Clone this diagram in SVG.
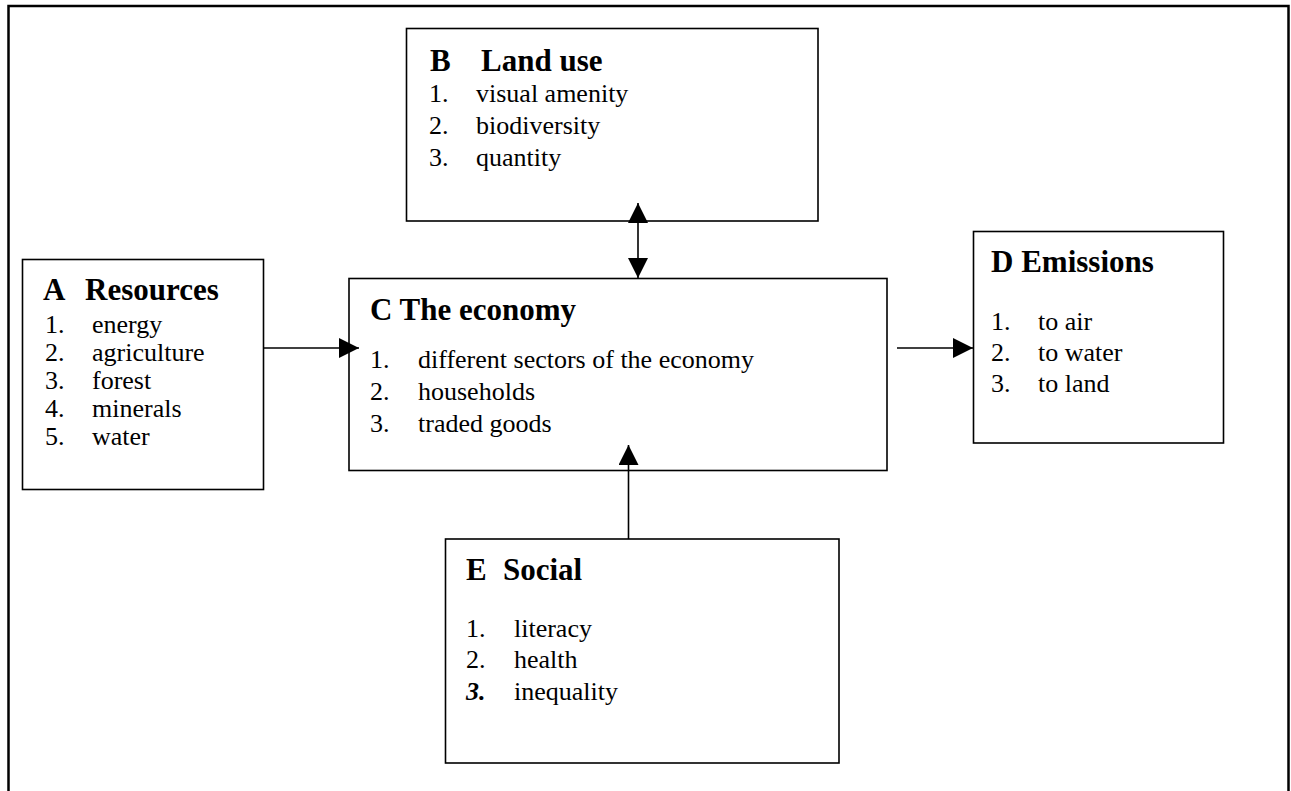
<svg xmlns="http://www.w3.org/2000/svg" width="1291" height="791" viewBox="0 0 1291 791">
<style>
.box{fill:#fff;stroke:#000;stroke-width:1.6}
.t{font-family:"Liberation Serif","Times New Roman",serif;font-size:31px;font-weight:bold;fill:#000}
.i{font-family:"Liberation Serif","Times New Roman",serif;font-size:26px;fill:#000}
.c{stroke:#000;stroke-width:1.6;fill:none}
</style>
<defs>
<marker id="ah" markerUnits="userSpaceOnUse" markerWidth="20" markerHeight="20" refX="20" refY="10" orient="auto-start-reverse" viewBox="0 0 20 20">
<path d="M0,0 L20,10 L0,20 z" fill="#000"/>
</marker>
</defs>
<rect x="0" y="0" width="1291" height="791" fill="#fff"/>
<rect x="8.5" y="6" width="1280" height="820" fill="none" stroke="#000" stroke-width="2.5"/>

<g id="nodeB">
<rect class="box" x="406.5" y="28.5" width="411.5" height="192.5"/>
<text class="t" x="430" y="71">B</text><text class="t" x="481" y="71">Land use</text>
<text class="i" x="429" y="102">1.</text><text class="i" x="476" y="102">visual amenity</text>
<text class="i" x="429" y="134">2.</text><text class="i" x="476" y="134">biodiversity</text>
<text class="i" x="429" y="166">3.</text><text class="i" x="476" y="166">quantity</text>
</g>

<g id="nodeA">
<rect class="box" x="22.5" y="259.5" width="241" height="230"/>
<text class="t" x="43" y="300">A</text><text class="t" x="85" y="300">Resources</text>
<text class="i" x="45" y="333">1.</text><text class="i" x="92" y="333">energy</text>
<text class="i" x="45" y="361">2.</text><text class="i" x="92" y="361">agriculture</text>
<text class="i" x="45" y="389">3.</text><text class="i" x="92" y="389">forest</text>
<text class="i" x="45" y="417">4.</text><text class="i" x="92" y="417">minerals</text>
<text class="i" x="45" y="445">5.</text><text class="i" x="92" y="445">water</text>
</g>

<g id="nodeC">
<rect class="box" x="349" y="278.5" width="538" height="192"/>
<text class="t" x="370" y="320">C The economy</text>
<text class="i" x="370" y="368">1.</text><text class="i" x="418" y="368">different sectors of the economy</text>
<text class="i" x="370" y="400">2.</text><text class="i" x="418" y="400">households</text>
<text class="i" x="370" y="432">3.</text><text class="i" x="418" y="432">traded goods</text>
</g>

<g id="nodeD">
<rect class="box" x="973.5" y="231.5" width="250" height="211.5"/>
<text class="t" x="991" y="272">D Emissions</text>
<text class="i" x="991" y="330">1.</text><text class="i" x="1038" y="330">to air</text>
<text class="i" x="991" y="361">2.</text><text class="i" x="1038" y="361">to water</text>
<text class="i" x="991" y="392">3.</text><text class="i" x="1038" y="392">to land</text>
</g>

<g id="nodeE">
<rect class="box" x="445.5" y="539" width="393.5" height="224"/>
<text class="t" x="466" y="580">E</text><text class="t" x="503" y="580">Social</text>
<text class="i" x="466" y="637">1.</text><text class="i" x="514" y="637">literacy</text>
<text class="i" x="466" y="668">2.</text><text class="i" x="514" y="668">health</text>
<text class="i" x="466" y="700" font-weight="bold" font-style="italic">3.</text><text class="i" x="514" y="700">inequality</text>
</g>

<g id="connectors">
<line class="c" x1="263" y1="348" x2="359" y2="348" marker-end="url(#ah)"/>
<line class="c" x1="897" y1="348" x2="973" y2="348" marker-end="url(#ah)"/>
<line class="c" x1="638" y1="203" x2="638" y2="278" marker-start="url(#ah)" marker-end="url(#ah)"/>
<line class="c" x1="628.5" y1="539" x2="628.5" y2="445" marker-end="url(#ah)"/>
</g>
</svg>
